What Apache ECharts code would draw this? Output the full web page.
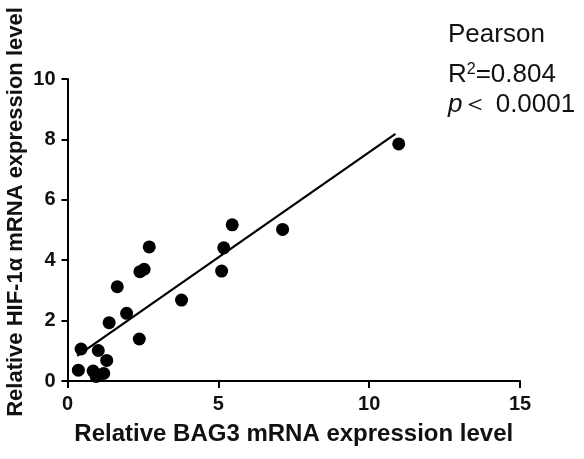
<!DOCTYPE html>
<html>
<head>
<meta charset="utf-8">
<script src="https://cdn.jsdelivr.net/npm/echarts@6/dist/echarts.min.js"></script>
<style>html,body{margin:0;padding:0;background:#fff}#c{width:584px;height:459px}</style>
</head>
<body>
<div id="c"></div>
<script>
// BAG3 (x) vs HIF-1α (y) relative mRNA expression
var bag3 = [0.36, 0.45, 1.02, 1.30, 0.85, 0.95, 1.20, 1.38, 1.96, 1.65, 2.38, 2.40, 2.54, 2.71, 3.78, 5.11, 5.18, 5.46, 7.13, 10.98];
var hif1a = [0.36, 1.06, 1.01, 0.68, 0.33, 0.15, 0.25, 1.93, 2.24, 3.12, 1.39, 3.62, 3.70, 4.44, 2.68, 3.64, 4.41, 5.17, 5.02, 7.85];
// regression line end points
var fitX = [0.32, 10.87];
var fitY = [0.83, 8.18];
var xTicks = [0, 5, 10, 15];
var yTicks = [0, 2, 4, 6, 8, 10];
var xLabel = 'Relative BAG3 mRNA expression level';
var yLabel = 'Relative HIF-1\u03b1 mRNA expression level';

var font = '"Liberation Sans", Arial, sans-serif';
var chart = echarts.init(document.getElementById('c'));
chart.setOption({
  animation: false,
  backgroundColor: '#fff',
  grid: {left: 67.5, top: 79, right: 64, bottom: 78},
  xAxis: {
    type: 'value', min: xTicks[0], max: xTicks[xTicks.length - 1], interval: xTicks[1] - xTicks[0],
    name: xLabel,
    nameLocation: 'middle', nameGap: 41,
    nameTextStyle: {fontFamily: font, fontWeight: 'bold', fontSize: 24, color: '#111'},
    axisLine: {lineStyle: {color: '#000', width: 2}},
    axisTick: {show: true, length: 7, lineStyle: {color: '#000', width: 2}},
    axisLabel: {fontFamily: font, fontWeight: 'bold', fontSize: 20, color: '#111', margin: 13},
    splitLine: {show: false}
  },
  yAxis: {
    type: 'value', min: yTicks[0], max: yTicks[yTicks.length - 1], interval: yTicks[1] - yTicks[0],
    axisLine: {show: true, lineStyle: {color: '#000', width: 2}},
    axisTick: {show: true, length: 6, lineStyle: {color: '#000', width: 2}},
    axisLabel: {fontFamily: font, fontWeight: 'bold', fontSize: 20, color: '#111', margin: 12},
    splitLine: {show: false}
  },
  series: [
    {
      type: 'scatter',
      data: bag3.map(function (x, i) { return [x, hif1a[i]]; }),
      symbol: 'circle', symbolSize: 13,
      itemStyle: {color: '#000', opacity: 1}
    },
    {
      type: 'line',
      data: fitX.map(function (x, i) { return [x, fitY[i]]; }),
      symbol: 'none',
      lineStyle: {color: '#000', width: 2.2}
    }
  ],
  graphic: [
    {type: 'text', x: 15.5, y: 212, rotation: Math.PI / 2, style: {
      text: yLabel, font: 'bold 22px ' + font, fill: '#111', align: 'center', verticalAlign: 'middle'
    }},
    {type: 'text', left: 448, top: 22, style: {text: 'Pearson', font: '26px ' + font, fill: '#111'}},
    {type: 'text', left: 448, top: 62, style: {
      text: '{n|R}{s|2}{n|=0.804}',
      rich: {
        n: {font: '26px ' + font, fill: '#111', verticalAlign: 'bottom'},
        s: {font: '16px ' + font, fill: '#111', verticalAlign: 'top', padding: [0, 0, 10, 0]}
      }
    }},
    {type: 'text', left: 448, top: 92, style: {
      text: '{i|p}{n|\uff1c 0.0001}',
      rich: {
        i: {font: 'italic 26px ' + font, fill: '#111'},
        n: {font: '26px ' + font, fill: '#111'}
      }
    }}
  ]
});
</script>
</body>
</html>
